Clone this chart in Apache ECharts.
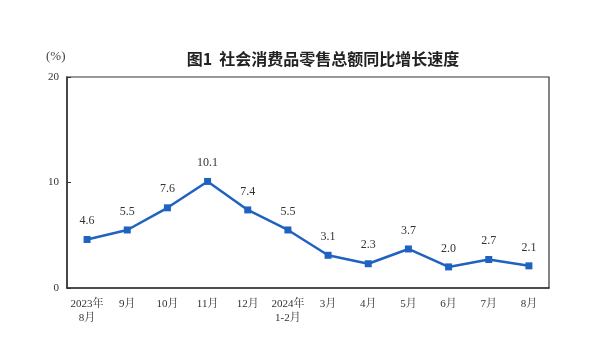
<!DOCTYPE html>
<html>
<head>
<meta charset="utf-8">
<script src="https://cdn.jsdelivr.net/npm/echarts@6/dist/echarts.min.js"></script>
<style>html,body{margin:0;padding:0;background:#fff}#c{width:600px;height:364px}</style>
</head>
<body>
<div id="c"></div>
<script>
const categories = ['2023年\n8月','9月','10月','11月','12月','2024年\n1-2月','3月','4月','5月','6月','7月','8月'];
const values = [4.6, 5.5, 7.6, 10.1, 7.4, 5.5, 3.1, 2.3, 3.7, 2.0, 2.7, 2.1];
const titleText = '图1  社会消费品零售总额同比增长速度';
const unitText = '(%)';

const chart = echarts.init(document.getElementById('c'), null, {renderer: 'canvas'});
const serif = '"Liberation Serif", "Noto Serif CJK SC", "Noto Sans CJK SC", serif';
chart.setOption({
  animation: false,
  backgroundColor: '#fff',
  title: {
    text: titleText,
    left: 318, top: 46, textAlign: 'center',
    textStyle: {fontFamily: '"Noto Sans CJK SC", sans-serif', fontSize: 16, fontWeight: 'bold', color: '#222'}
  },
  graphic: [{
    type: 'text', left: 46, top: 50,
    style: {text: unitText, font: '13px ' + serif, fill: '#444'}
  }],
  grid: {left: 67, right: 51, top: 77, bottom: 76, show: true, borderColor: '#333', borderWidth: 1.2},
  xAxis: {
    type: 'category', data: categories, boundaryGap: true,
    axisLine: {lineStyle: {color: '#333', width: 1.5}},
    axisTick: {inside: true, length: 4, lineStyle: {color: '#333'}},
    axisLabel: {fontFamily: serif, fontSize: 11, color: '#333', margin: 9, lineHeight: 14, interval: 0}
  },
  yAxis: {
    type: 'value', min: 0, max: 20, interval: 10,
    axisLine: {show: true, lineStyle: {color: '#333', width: 1.5}},
    axisTick: {show: true, inside: true, length: 4, lineStyle: {color: '#333'}},
    splitLine: {show: false},
    axisLabel: {fontFamily: serif, fontSize: 11, color: '#333', margin: 8}
  },
  series: [{
    type: 'line', data: values,
    symbol: 'rect', symbolSize: 7,
    lineStyle: {color: '#1f62c0', width: 2.5},
    itemStyle: {color: '#1f62c0'},
    label: {show: true, position: 'top', distance: 9, fontFamily: serif, fontSize: 12, color: '#333',
      formatter: p => p.value.toFixed(1)}
  }]
});
</script>
</body>
</html>
